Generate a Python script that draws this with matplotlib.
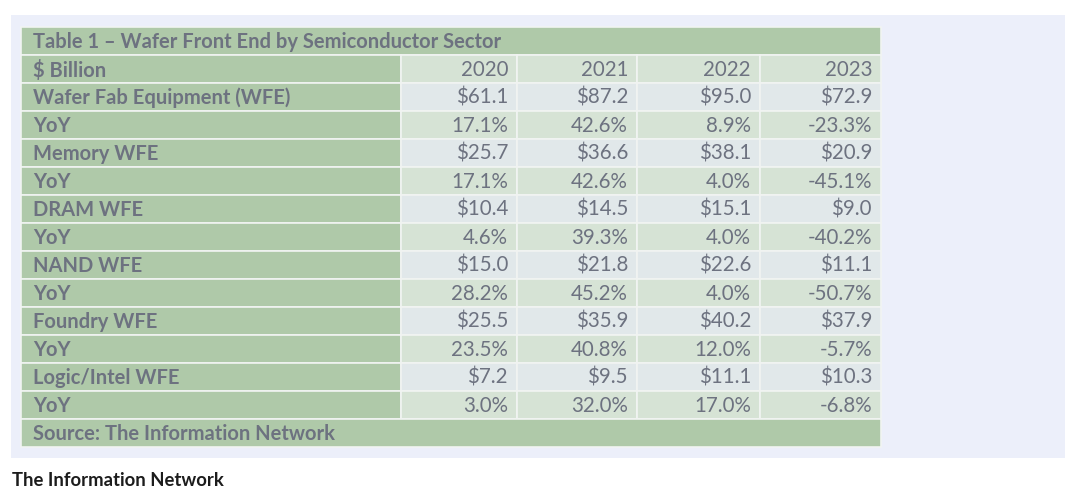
import matplotlib.pyplot as plt
from matplotlib.patches import Rectangle

plt.rcParams['font.family'] = ['Lato', 'DejaVu Sans']

# table data
title = 'Table 1 \u2013 Wafer Front End by Semiconductor Sector'
unit_label = '$ Billion'
years = ['2020', '2021', '2022', '2023']
source = 'Source: The Information Network'
footer = 'The Information Network'

sectors = ['Wafer Fab Equipment (WFE)', 'Memory WFE', 'DRAM WFE',
           'NAND WFE', 'Foundry WFE', 'Logic/Intel WFE']
wfe = [61.1, 87.2, 95.0, 72.9]
wfe_yoy = [17.1, 42.6, 8.9, -23.3]
memory = [25.7, 36.6, 38.1, 20.9]
memory_yoy = [17.1, 42.6, 4.0, -45.1]
dram = [10.4, 14.5, 15.1, 9.0]
dram_yoy = [4.6, 39.3, 4.0, -40.2]
nand = [15.0, 21.8, 22.6, 11.1]
nand_yoy = [28.2, 45.2, 4.0, -50.7]
foundry = [25.5, 35.9, 40.2, 37.9]
foundry_yoy = [23.5, 40.8, 12.0, -5.7]
logic = [7.2, 9.5, 11.1, 10.3]
logic_yoy = [3.0, 32.0, 17.0, -6.8]

values = [wfe, memory, dram, nand, foundry, logic]
yoys = [wfe_yoy, memory_yoy, dram_yoy, nand_yoy, foundry_yoy, logic_yoy]

# colours / layout (pixels)
green = '#afc9a9'
light_green = '#d6e3d5'
light_grey = '#e1e8ea'
panel = '#eceffa'
txt = '#6d7280'
grid = '#f1f4f2'

col_x = [21, 401, 517, 637, 760, 881]
top = 27
row_h = 28

fig = plt.figure(figsize=(10.8, 4.96), dpi=100)
ax = fig.add_axes([0, 0, 1, 1])
ax.set_xlim(0, 1080)
ax.set_ylim(496, 0)
ax.axis('off')

ax.add_patch(Rectangle((11, 15), 1054, 443, color=panel, lw=0))


def cell(x0, x1, y0, fc):
    ax.add_patch(Rectangle((x0, y0), x1 - x0, row_h, facecolor=fc,
                           edgecolor=grid, lw=1.2))


def label(s, y0):
    ax.text(col_x[0] + 12, y0 + row_h / 2 + 1, s, ha='left', va='center',
            fontsize=14.5, fontweight='bold', color=txt)


def nums(strs, y0):
    for j, s in enumerate(strs):
        ax.text(col_x[j + 2] - 9, y0 + row_h / 2 + 1, s, ha='right',
                va='center', fontsize=14.8, color=txt)


# title row
y = top
cell(col_x[0], col_x[-1], y, green)
label(title, y)

# header row
y += row_h
cell(col_x[0], col_x[1], y, green)
for j in range(4):
    cell(col_x[j + 1], col_x[j + 2], y, light_green)
label(unit_label, y)
nums(years, y)

# data rows
for name, v, g in zip(sectors, values, yoys):
    y += row_h
    cell(col_x[0], col_x[1], y, green)
    for j in range(4):
        cell(col_x[j + 1], col_x[j + 2], y, light_grey)
    label(name, y)
    nums(['$%.1f' % a for a in v], y)

    y += row_h
    cell(col_x[0], col_x[1], y, green)
    for j in range(4):
        cell(col_x[j + 1], col_x[j + 2], y, light_green)
    label('YoY', y)
    nums(['%.1f%%' % a for a in g], y)

# source row
y += row_h
cell(col_x[0], col_x[-1], y, green)
label(source, y)

ax.text(12, 480, footer, ha='left', va='center', fontsize=13.3,
        fontweight='bold', color='#1c1c1c')

plt.savefig('out.png', dpi=100)
